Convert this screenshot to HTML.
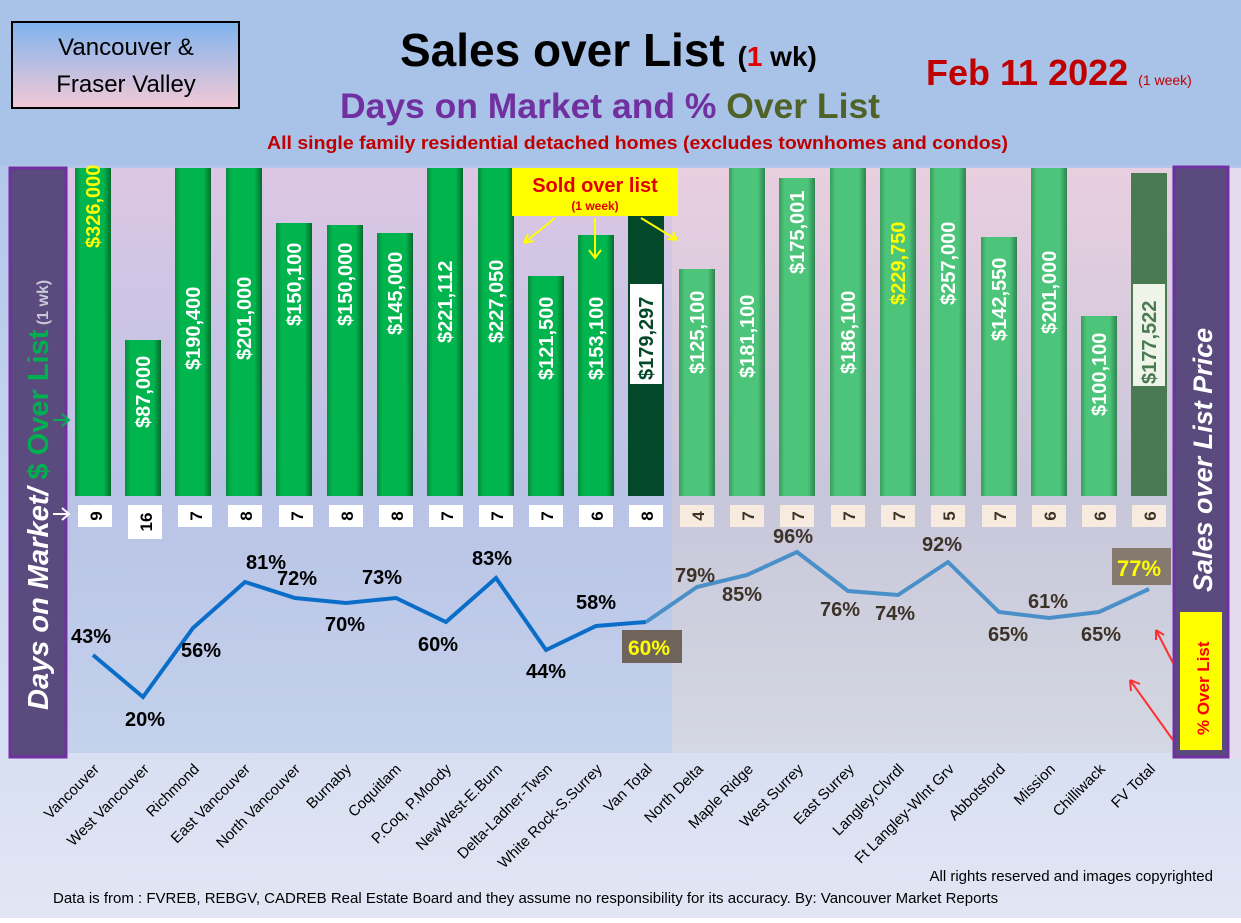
<!DOCTYPE html>
<html><head><meta charset="utf-8"><style>
body{margin:0;width:1241px;height:918px;overflow:hidden;font-family:"Liberation Sans",sans-serif}
</style></head><body>
<svg width="1241" height="918" xmlns="http://www.w3.org/2000/svg" font-family="Liberation Sans, sans-serif">
<defs>
<linearGradient id="bg" x1="0" y1="0" x2="0" y2="1"><stop offset="0" stop-color="#a7c0e8"/><stop offset="1" stop-color="#e2e6f4"/></linearGradient>
<linearGradient id="pl" x1="0" y1="0" x2="0" y2="1"><stop offset="0" stop-color="#dcc6e4"/><stop offset="0.55" stop-color="#b9c3e6"/><stop offset="1" stop-color="#c4d2ec"/></linearGradient>
<linearGradient id="pr" x1="0" y1="0" x2="0" y2="1"><stop offset="0" stop-color="#e8cfe0"/><stop offset="0.55" stop-color="#c8c6da"/><stop offset="1" stop-color="#d4d8e2"/></linearGradient>
<linearGradient id="g1" x1="0" x2="1"><stop offset="0" stop-color="#0a8a3c"/><stop offset="0.15" stop-color="#00b44e"/><stop offset="0.8" stop-color="#00b44e"/><stop offset="1" stop-color="#066a2c"/></linearGradient>
<linearGradient id="g2" x1="0" x2="1"><stop offset="0" stop-color="#3a9c5c"/><stop offset="0.15" stop-color="#4cc47a"/><stop offset="0.8" stop-color="#4cc47a"/><stop offset="1" stop-color="#2f8450"/></linearGradient>
<linearGradient id="lb" x1="0" y1="0" x2="0" y2="1"><stop offset="0" stop-color="#7fb3ee"/><stop offset="1" stop-color="#f3c9d6"/></linearGradient>
</defs>
<rect width="1241" height="918" fill="url(#bg)"/>
<rect x="0" y="0" width="1241" height="165" fill="#a9c2e8"/>
<rect x="68" y="168" width="604" height="585" fill="url(#pl)"/>
<rect x="672" y="168" width="500" height="585" fill="url(#pr)"/>
<rect x="1178" y="168" width="63" height="590" fill="#e4dcee"/>
<!-- header -->
<rect x="12" y="22" width="227" height="86" fill="url(#lb)" stroke="#000" stroke-width="2"/>
<text x="126" y="55" font-size="24" text-anchor="middle">Vancouver &amp;</text>
<text x="126" y="92" font-size="24" text-anchor="middle">Fraser Valley</text>
<text x="400" y="66" font-size="46" font-weight="bold">Sales over List <tspan font-size="28">(<tspan fill="#e00000">1</tspan> wk)</tspan></text>
<text x="926" y="85" font-size="36" font-weight="bold" fill="#c00000">Feb 11  2022 <tspan font-size="14" font-weight="normal">(1 week)</tspan></text>
<text x="340" y="118" font-size="35" font-weight="bold" fill="#7030a0" textLength="540" lengthAdjust="spacingAndGlyphs">Days on Market and % <tspan fill="#4f6228">Over List</tspan></text>
<text x="267" y="149" font-size="18" font-weight="bold" fill="#c00000" textLength="741" lengthAdjust="spacingAndGlyphs">All single family residential detached homes (excludes townhomes and condos)</text>
<!-- side panels -->
<rect x="10" y="168" width="56" height="589" fill="#5a4a7e" stroke="#7030a0" stroke-width="3"/>
<text transform="translate(48,710) rotate(-90)" font-size="29" font-weight="bold" font-style="italic" fill="#fff">Days on Market/ <tspan fill="#00b050" font-style="normal">$ Over List</tspan><tspan font-size="16" fill="#c8c8d8" font-style="normal"> (1 wk)</tspan></text>
<rect x="1174" y="167" width="54" height="590" fill="#5a4a7e" stroke="#7030a0" stroke-width="3"/>
<text transform="translate(1212,592) rotate(-90)" font-size="27" font-weight="bold" font-style="italic" fill="#fff">Sales over List Price</text>
<rect x="1180" y="612" width="42" height="138" fill="#ffff00"/>
<text transform="translate(1209,735) rotate(-90)" font-size="17" font-weight="bold" fill="#ff0000">% Over List</text>
<g stroke="#ff3030" stroke-width="2" fill="none"><path d="M1173 663 L1156 630 M1156 630 l0 10 M1156 630 l8 5"/><path d="M1173 740 L1130 680 M1130 680 l1 11 M1130 680 l10 4"/></g>
<g stroke="#00b050" stroke-width="2" fill="none"><path d="M53 420 H69 M62 414 l7 6 -7 6"/></g>
<g stroke="#fff" stroke-width="2" fill="none"><path d="M53 514 H69 M62 508 l7 6 -7 6"/></g>
<g font-weight="bold">
<rect x="75" y="168" width="36" height="328" fill="url(#g1)"/>
<rect x="125" y="340" width="36" height="156" fill="url(#g1)"/>
<rect x="175" y="168" width="36" height="328" fill="url(#g1)"/>
<rect x="226" y="168" width="36" height="328" fill="url(#g1)"/>
<rect x="276" y="223" width="36" height="273" fill="url(#g1)"/>
<rect x="327" y="225" width="36" height="271" fill="url(#g1)"/>
<rect x="377" y="233" width="36" height="263" fill="url(#g1)"/>
<rect x="427" y="168" width="36" height="328" fill="url(#g1)"/>
<rect x="478" y="168" width="36" height="328" fill="url(#g1)"/>
<rect x="528" y="276" width="36" height="220" fill="url(#g1)"/>
<rect x="578" y="235" width="36" height="261" fill="url(#g1)"/>
<rect x="628" y="215" width="36" height="281" fill="#04482a"/>
<rect x="679" y="269" width="36" height="227" fill="url(#g2)"/>
<rect x="729" y="168" width="36" height="328" fill="url(#g2)"/>
<rect x="779" y="178" width="36" height="318" fill="url(#g2)"/>
<rect x="830" y="168" width="36" height="328" fill="url(#g2)"/>
<rect x="880" y="168" width="36" height="328" fill="url(#g2)"/>
<rect x="930" y="168" width="36" height="328" fill="url(#g2)"/>
<rect x="981" y="237" width="36" height="259" fill="url(#g2)"/>
<rect x="1031" y="168" width="36" height="328" fill="url(#g2)"/>
<rect x="1081" y="316" width="36" height="180" fill="url(#g2)"/>
<rect x="1131" y="173" width="36" height="323" fill="#4a7a52"/>
<rect x="630" y="284" width="32" height="100" fill="#fff"/>
<rect x="1133" y="284" width="32" height="102" fill="#eef4e8"/>
<g font-size="20" fill="#fff">
<text transform="translate(100,248) rotate(-90)" fill="#ffff00">$326,000</text>
<text transform="translate(150,428) rotate(-90)">$87,000</text>
<text transform="translate(200,370) rotate(-90)">$190,400</text>
<text transform="translate(251,360) rotate(-90)">$201,000</text>
<text transform="translate(301,326) rotate(-90)">$150,100</text>
<text transform="translate(352,326) rotate(-90)">$150,000</text>
<text transform="translate(402,335) rotate(-90)">$145,000</text>
<text transform="translate(452,343) rotate(-90)">$221,112</text>
<text transform="translate(503,343) rotate(-90)">$227,050</text>
<text transform="translate(553,380) rotate(-90)">$121,500</text>
<text transform="translate(603,380) rotate(-90)">$153,100</text>
<text transform="translate(653,380) rotate(-90)" fill="#04482a">$179,297</text>
<text transform="translate(704,374) rotate(-90)">$125,100</text>
<text transform="translate(754,378) rotate(-90)">$181,100</text>
<text transform="translate(804,274) rotate(-90)">$175,001</text>
<text transform="translate(855,374) rotate(-90)">$186,100</text>
<text transform="translate(905,305) rotate(-90)" fill="#ffff00">$229,750</text>
<text transform="translate(955,305) rotate(-90)">$257,000</text>
<text transform="translate(1006,341) rotate(-90)">$142,550</text>
<text transform="translate(1056,334) rotate(-90)">$201,000</text>
<text transform="translate(1106,416) rotate(-90)">$100,100</text>
<text transform="translate(1156,384) rotate(-90)" fill="#4a7a52">$177,522</text>
</g>
<rect x="512" y="168" width="166" height="48" fill="#ffff00"/>
<text x="595" y="192" font-size="20" fill="#e00000" text-anchor="middle">Sold over list</text>
<text x="595" y="210" font-size="12" fill="#e00000" text-anchor="middle">(1 week)</text>
<g stroke="#ffff00" stroke-width="2" fill="none"><path d="M555 218 L524 243 M524 243 l4 -9 M524 243 l9 -2"/><path d="M595 218 V258 M589 250 l6 8 6 -8"/><path d="M641 218 L677 240 M677 240 l-9 -1 M677 240 l-4 -8"/></g>
<g font-size="17" fill="#000">
<rect x="78" y="505" width="34" height="22" fill="#fff"/><text transform="translate(102,516) rotate(-90)" text-anchor="middle">9</text>
<rect x="128" y="505" width="34" height="34" fill="#fff"/><text transform="translate(152,522) rotate(-90)" text-anchor="middle">16</text>
<rect x="178" y="505" width="34" height="22" fill="#fff"/><text transform="translate(202,516) rotate(-90)" text-anchor="middle">7</text>
<rect x="228" y="505" width="34" height="22" fill="#fff"/><text transform="translate(252,516) rotate(-90)" text-anchor="middle">8</text>
<rect x="279" y="505" width="34" height="22" fill="#fff"/><text transform="translate(303,516) rotate(-90)" text-anchor="middle">7</text>
<rect x="329" y="505" width="34" height="22" fill="#fff"/><text transform="translate(353,516) rotate(-90)" text-anchor="middle">8</text>
<rect x="379" y="505" width="34" height="22" fill="#fff"/><text transform="translate(403,516) rotate(-90)" text-anchor="middle">8</text>
<rect x="429" y="505" width="34" height="22" fill="#fff"/><text transform="translate(453,516) rotate(-90)" text-anchor="middle">7</text>
<rect x="479" y="505" width="34" height="22" fill="#fff"/><text transform="translate(503,516) rotate(-90)" text-anchor="middle">7</text>
<rect x="529" y="505" width="34" height="22" fill="#fff"/><text transform="translate(553,516) rotate(-90)" text-anchor="middle">7</text>
<rect x="579" y="505" width="34" height="22" fill="#fff"/><text transform="translate(603,516) rotate(-90)" text-anchor="middle">6</text>
<rect x="629" y="505" width="34" height="22" fill="#fff"/><text transform="translate(653,516) rotate(-90)" text-anchor="middle">8</text>
</g>
<g font-size="17" fill="#3c3228">
<rect x="680" y="505" width="34" height="22" fill="#f7ebe0"/><text transform="translate(704,516) rotate(-90)" text-anchor="middle">4</text>
<rect x="730" y="505" width="34" height="22" fill="#f7ebe0"/><text transform="translate(754,516) rotate(-90)" text-anchor="middle">7</text>
<rect x="780" y="505" width="34" height="22" fill="#f7ebe0"/><text transform="translate(804,516) rotate(-90)" text-anchor="middle">7</text>
<rect x="831" y="505" width="34" height="22" fill="#f7ebe0"/><text transform="translate(855,516) rotate(-90)" text-anchor="middle">7</text>
<rect x="881" y="505" width="34" height="22" fill="#f7ebe0"/><text transform="translate(905,516) rotate(-90)" text-anchor="middle">7</text>
<rect x="931" y="505" width="34" height="22" fill="#f7ebe0"/><text transform="translate(955,516) rotate(-90)" text-anchor="middle">5</text>
<rect x="982" y="505" width="34" height="22" fill="#f7ebe0"/><text transform="translate(1006,516) rotate(-90)" text-anchor="middle">7</text>
<rect x="1032" y="505" width="34" height="22" fill="#f7ebe0"/><text transform="translate(1056,516) rotate(-90)" text-anchor="middle">6</text>
<rect x="1082" y="505" width="34" height="22" fill="#f7ebe0"/><text transform="translate(1106,516) rotate(-90)" text-anchor="middle">6</text>
<rect x="1132" y="505" width="34" height="22" fill="#f7ebe0"/><text transform="translate(1156,516) rotate(-90)" text-anchor="middle">6</text>
</g>
<polyline points="93,655 143,697 193,628 245,582 295,598 346,603 396,598 446,622 496,578 546,650 596,626 646,622" fill="none" stroke="#0a6ec8" stroke-width="4"/>
<polyline points="646,622 697,587 747,575 797,552 848,591 898,595 948,562 999,612 1049,618 1099,612 1149,589" fill="none" stroke="#4a90c8" stroke-width="4"/>
<g font-size="20" fill="#000">
<text x="71" y="643">43%</text><text x="125" y="726">20%</text><text x="181" y="657">56%</text>
<text x="246" y="569">81%</text><text x="277" y="585">72%</text><text x="325" y="631">70%</text>
<text x="362" y="584">73%</text><text x="418" y="651">60%</text><text x="472" y="565">83%</text>
<text x="526" y="678">44%</text><text x="576" y="609">58%</text>
</g>
<rect x="622" y="630" width="60" height="33" fill="#6e645a"/>
<text x="628" y="655" font-size="21" font-weight="bold" fill="#ffff00">60%</text>
<g font-size="20" fill="#3c3228">
<text x="675" y="582">79%</text><text x="722" y="601">85%</text><text x="773" y="543">96%</text>
<text x="820" y="616">76%</text><text x="875" y="620">74%</text><text x="922" y="551">92%</text>
<text x="988" y="641">65%</text><text x="1028" y="608">61%</text><text x="1081" y="641">65%</text>
</g>
<rect x="1112" y="548" width="59" height="37" fill="#867a6e"/>
<text x="1117" y="576" font-size="22" font-weight="bold" fill="#ffff00">77%</text>
</g>
<g font-size="15" fill="#000" text-anchor="end">
<text transform="translate(100,770) rotate(-45)">Vancouver</text>
<text transform="translate(150,770) rotate(-45)">West Vancouver</text>
<text transform="translate(200,770) rotate(-45)">Richmond</text>
<text transform="translate(251,770) rotate(-45)">East Vancouver</text>
<text transform="translate(301,770) rotate(-45)">North Vancouver</text>
<text transform="translate(352,770) rotate(-45)">Burnaby</text>
<text transform="translate(402,770) rotate(-45)">Coquitlam</text>
<text transform="translate(452,770) rotate(-45)">P.Coq, P.Moody</text>
<text transform="translate(503,770) rotate(-45)">NewWest-E.Burn</text>
<text transform="translate(553,770) rotate(-45)">Delta-Ladner-Twsn</text>
<text transform="translate(603,770) rotate(-45)">White Rock-S.Surrey</text>
<text transform="translate(653,770) rotate(-45)">Van Total</text>
<text transform="translate(704,770) rotate(-45)">North Delta</text>
<text transform="translate(754,770) rotate(-45)">Maple Ridge</text>
<text transform="translate(804,770) rotate(-45)">West Surrey</text>
<text transform="translate(855,770) rotate(-45)">East Surrey</text>
<text transform="translate(905,770) rotate(-45)">Langley,Clvrdl</text>
<text transform="translate(955,770) rotate(-45)">Ft Langley-Wlnt Grv</text>
<text transform="translate(1006,770) rotate(-45)">Abbotsford</text>
<text transform="translate(1056,770) rotate(-45)">Mission</text>
<text transform="translate(1106,770) rotate(-45)">Chilliwack</text>
<text transform="translate(1156,770) rotate(-45)">FV Total</text>
</g>
<text x="1213" y="881" font-size="15" text-anchor="end">All rights reserved and  images copyrighted</text>
<text x="53" y="903" font-size="15">Data is from : FVREB, REBGV, CADREB Real Estate Board and they assume no responsibility for its accuracy. By: Vancouver Market Reports</text>
</svg>
</body></html>
